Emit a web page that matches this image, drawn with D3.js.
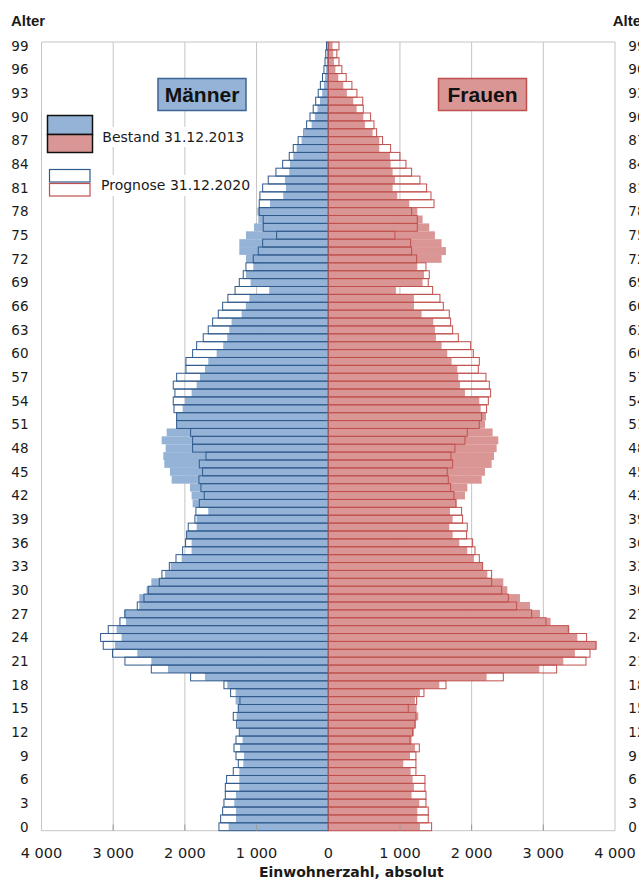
<!DOCTYPE html>
<html>
<head>
<meta charset="utf-8">
<script src="https://cdn.jsdelivr.net/npm/d3@7/dist/d3.min.js"></script>
<style>
  html, body { margin: 0; padding: 0; background: #fff; }
  svg { display: block; }
</style>
</head>
<body>
<svg id="chart" width="639" height="879"></svg>
<script>
// ---------- DATA (ages 0 .. 99) ----------
const ages = d3.range(0, 100);
const ageTicks = d3.range(0, 100, 3);
const valueTicks = [-4000, -3000, -2000, -1000, 0, 1000, 2000, 3000, 4000];

// Männer, Bestand 31.12.2013
const maleBestand = [
  1390, 1287, 1287, 1311, 1287, 1241, 1241, 1241, 1185, 1176,
  1232, 1195, 1232, 1269, 1278, 1260, 1292, 1292, 1408, 1720,
  2236, 2468, 2664, 2976, 2883, 2952, 2822, 2850, 2636, 2636,
  2534, 2468, 2278, 2199, 2045, 1906, 1906, 1976, 1836, 1836,
  1674, 1892, 1906, 1929, 2185, 2208, 2287, 2301, 2268, 2324,
  2254, 2115, 2115, 2031, 1999, 1906, 1836, 1790, 1720, 1674,
  1557, 1465, 1409, 1381, 1348, 1208, 1150, 1100, 823, 1083,
  1148, 1046, 1148, 1241, 1241, 1148, 1036, 976, 990, 813,
  628, 590, 604, 544, 534, 488, 441, 372, 325, 232,
  186, 150, 115, 85, 60, 45, 30, 20, 15, 10
];
// Männer, Prognose 31.12.2020
const malePrognose = [
  1525, 1501, 1473, 1455, 1436, 1436, 1418, 1325, 1255, 1287,
  1315, 1287, 1241, 1278, 1325, 1255, 1232, 1362, 1455, 1920,
  2468, 2836, 3009, 3139, 3176, 3069, 2906, 2836, 2664, 2571,
  2511, 2357, 2320, 2217, 2124, 2031, 1990, 1976, 1953, 1860,
  1846, 1799, 1730, 1776, 1804, 1753, 1799, 1706, 1892, 1892,
  1920, 2115, 2115, 2152, 2162, 2139, 2162, 2115, 1985, 1985,
  1892, 1836, 1744, 1674, 1613, 1534, 1473, 1400, 1300, 1241,
  1186, 1148, 1046, 976, 915, 720, 907, 907, 963, 963,
  953, 915, 837, 730, 636, 544, 488, 420, 339, 302,
  255, 210, 175, 140, 110, 80, 60, 45, 35, 25
];
// Frauen, Bestand 31.12.2013
const femaleBestand = [
  1279, 1242, 1242, 1270, 1163, 1195, 1177, 1149, 1047, 1140,
  1209, 1163, 1195, 1223, 1256, 1233, 1209, 1279, 1549, 2209,
  2944, 3279, 3441, 3744, 3474, 3363, 3102, 2953, 2814, 2674,
  2498, 2442, 2219, 2154, 2033, 1939, 1828, 1735, 1688, 1735,
  1698, 1791, 1907, 1940, 2140, 2186, 2279, 2312, 2349, 2372,
  2293, 2186, 2200, 2126, 2107, 1907, 1837, 1814, 1800, 1721,
  1660, 1581, 1502, 1488, 1465, 1302, 1195, 1195, 944, 1316,
  1335, 1242, 1581, 1642, 1581, 1488, 1409, 1316, 1242, 1130,
  963, 898, 930, 898, 870, 861, 712, 712, 619, 512,
  489, 396, 349, 260, 210, 140, 100, 80, 70, 60
];
// Frauen, Prognose 31.12.2020
const femalePrognose = [
  1442, 1395, 1395, 1363, 1363, 1349, 1349, 1223, 1223, 1223,
  1270, 1140, 1177, 1209, 1223, 1116, 1233, 1335, 1642, 2442,
  3186, 3595, 3651, 3735, 3604, 3349, 3037, 2837, 2628, 2512,
  2419, 2279, 2279, 2154, 2107, 2047, 2014, 1930, 1939, 1874,
  1860, 1781, 1753, 1707, 1674, 1660, 1735, 1712, 1767, 1907,
  1939, 2107, 2140, 2209, 2233, 2265, 2247, 2200, 2093, 2107,
  2023, 1986, 1814, 1735, 1707, 1688, 1605, 1558, 1456, 1395,
  1409, 1363, 1233, 1163, 1149, 930, 1242, 1242, 1163, 1475,
  1433, 1372, 1279, 1163, 1084, 1000, 870, 758, 675, 638,
  591, 488, 481, 400, 330, 250, 190, 150, 120, 150
];

const labels = {
  yTitle: "Alter",
  xTitle: "Einwohnerzahl, absolut",
  male: "Männer",
  female: "Frauen",
  bestand: "Bestand 31.12.2013",
  prognose: "Prognose 31.12.2020"
};

// ---------- STYLE ----------
const C = {
  maleFill: "#95b3d7",
  femaleFill: "#da9694",
  maleLine: "#2f5a8c",
  femaleLine: "#c0504d",
  grid: "#c4c4c4",
  text: "#1a1a1a"
};
const numFont = "'DejaVu Sans', Verdana, sans-serif";
const arialFont = "'Liberation Sans', Arial, sans-serif";

// ---------- SCALES ----------
const svg = d3.select("#chart");
const x = d3.scaleLinear().domain([-4000, 4000]).range([41.5, 615]);
const y = d3.scaleBand().domain(ages.slice().reverse()).range([42, 830.7]).padding(0);
const bw = y.bandwidth();
const fmt = d3.formatLocale({decimal: ",", thousands: " ", grouping: [3], currency: ["", ""]}).format(",");

// ---------- GRID & FRAME ----------
const g = svg.append("g");
g.selectAll("line.grid").data(valueTicks.filter(d => d !== 0)).join("line")
  .attr("x1", d => x(d)).attr("x2", d => x(d))
  .attr("y1", y.range()[0]).attr("y2", y.range()[1])
  .attr("stroke", C.grid).attr("stroke-width", 1);
g.append("line").attr("x1", x(-4000)).attr("x2", x(4000))
  .attr("y1", 42).attr("y2", 42).attr("stroke", C.grid);
g.append("line").attr("x1", x(-4000)).attr("x2", x(4000))
  .attr("y1", 830.7).attr("y2", 830.7).attr("stroke", C.grid);

// ---------- BARS ----------
const rows = ages.map(a => ({
  age: a, mB: maleBestand[a], mP: malePrognose[a], fB: femaleBestand[a], fP: femalePrognose[a]
}));

g.selectAll("rect.mB").data(rows).join("rect")
  .attr("x", d => x(-d.mB)).attr("width", d => x(0) - x(-d.mB))
  .attr("y", d => y(d.age)).attr("height", bw)
  .attr("fill", C.maleFill);
g.selectAll("rect.fB").data(rows).join("rect")
  .attr("x", x(0)).attr("width", d => x(d.fB) - x(0))
  .attr("y", d => y(d.age)).attr("height", bw)
  .attr("fill", C.femaleFill);

g.selectAll("rect.mP").data(rows).join("rect")
  .attr("x", d => x(-d.mP)).attr("width", d => x(0) - x(-d.mP))
  .attr("y", d => y(d.age)).attr("height", bw)
  .attr("fill", "none").attr("stroke", C.maleLine).attr("stroke-width", 1);
g.selectAll("rect.fP").data(rows).join("rect")
  .attr("x", x(0)).attr("width", d => x(d.fP) - x(0))
  .attr("y", d => y(d.age)).attr("height", bw)
  .attr("fill", "none").attr("stroke", C.femaleLine).attr("stroke-width", 1);

// small axis ticks at bottom
g.selectAll("line.tick").data(valueTicks.filter(d => d !== 0 && Math.abs(d) !== 4000)).join("line")
  .attr("x1", d => x(d)).attr("x2", d => x(d))
  .attr("y1", 824.5).attr("y2", 830.7)
  .attr("stroke", "#9a9a9a").attr("stroke-width", 1);

// ---------- AXES LABELS ----------
svg.selectAll("text.yl").data(ageTicks).join("text")
  .attr("x", 28.5).attr("y", d => y(d) + bw / 2).attr("dy", "0.36em")
  .attr("text-anchor", "end").attr("font-family", numFont).attr("font-size", 13.5)
  .attr("fill", C.text).text(d => d);
svg.selectAll("text.yr").data(ageTicks).join("text")
  .attr("x", 628.3).attr("y", d => y(d) + bw / 2).attr("dy", "0.36em")
  .attr("text-anchor", "start").attr("font-family", numFont).attr("font-size", 13.5)
  .attr("fill", C.text).text(d => d);

svg.selectAll("text.xl").data(valueTicks).join("text")
  .attr("x", d => x(d)).attr("y", 858)
  .attr("text-anchor", "middle").attr("font-family", numFont).attr("font-size", 14.5)
  .attr("fill", C.text).text(d => fmt(Math.abs(d)));

svg.append("text").attr("x", 351.3).attr("y", 877)
  .attr("text-anchor", "middle").attr("font-family", numFont).attr("font-weight", "bold")
  .attr("font-size", 14).attr("fill", C.text).text(labels.xTitle);

svg.append("text").attr("x", 11).attr("y", 25.5)
  .attr("font-family", arialFont).attr("font-weight", "bold").attr("font-size", 15)
  .attr("fill", C.text).text(labels.yTitle);
svg.append("text").attr("x", 612.7).attr("y", 25.5)
  .attr("font-family", arialFont).attr("font-weight", "bold").attr("font-size", 15)
  .attr("fill", C.text).text(labels.yTitle);

// ---------- SEX LABEL BOXES ----------
svg.append("rect").attr("x", 158).attr("y", 78.5).attr("width", 88).attr("height", 32)
  .attr("fill", C.maleFill).attr("stroke", "#3c6496").attr("stroke-width", 1.5);
svg.append("text").attr("x", 202).attr("y", 102)
  .attr("text-anchor", "middle").attr("font-family", arialFont).attr("font-weight", "bold")
  .attr("font-size", 21).attr("fill", "#111").text(labels.male);
svg.append("rect").attr("x", 438.5).attr("y", 78.5).attr("width", 88).attr("height", 32)
  .attr("fill", C.femaleFill).attr("stroke", "#c0504d").attr("stroke-width", 1.5);
svg.append("text").attr("x", 482.5).attr("y", 102)
  .attr("text-anchor", "middle").attr("font-family", arialFont).attr("font-weight", "bold")
  .attr("font-size", 21).attr("fill", "#111").text(labels.female);

// ---------- LEGEND ----------
const lg = svg.append("g");
lg.append("rect").attr("x", 99).attr("y", 127).attr("width", 150).attr("height", 20).attr("fill", "#fff");
lg.append("rect").attr("x", 98).attr("y", 175).attr("width", 155).attr("height", 21).attr("fill", "#fff");
lg.append("rect").attr("x", 47.5).attr("y", 115.5).attr("width", 45).attr("height", 19)
  .attr("fill", C.maleFill).attr("stroke", "#111").attr("stroke-width", 1.5);
lg.append("rect").attr("x", 47.5).attr("y", 134.5).attr("width", 45).attr("height", 18)
  .attr("fill", C.femaleFill).attr("stroke", "#111").attr("stroke-width", 1.5);
lg.append("text").attr("x", 102.3).attr("y", 141.5)
  .attr("font-family", numFont).attr("font-size", 14).attr("fill", C.text).text(labels.bestand);

lg.append("rect").attr("x", 49.5).attr("y", 169.5).attr("width", 40.5).attr("height", 12.5)
  .attr("fill", "#fff").attr("stroke", C.maleLine).attr("stroke-width", 1.2);
lg.append("rect").attr("x", 49.5).attr("y", 183.5).attr("width", 40.5).attr("height", 12.5)
  .attr("fill", "#fff").attr("stroke", C.femaleLine).attr("stroke-width", 1.2);
lg.append("text").attr("x", 101).attr("y", 190)
  .attr("font-family", numFont).attr("font-size", 14).attr("fill", C.text).text(labels.prognose);
</script>
</body>
</html>
